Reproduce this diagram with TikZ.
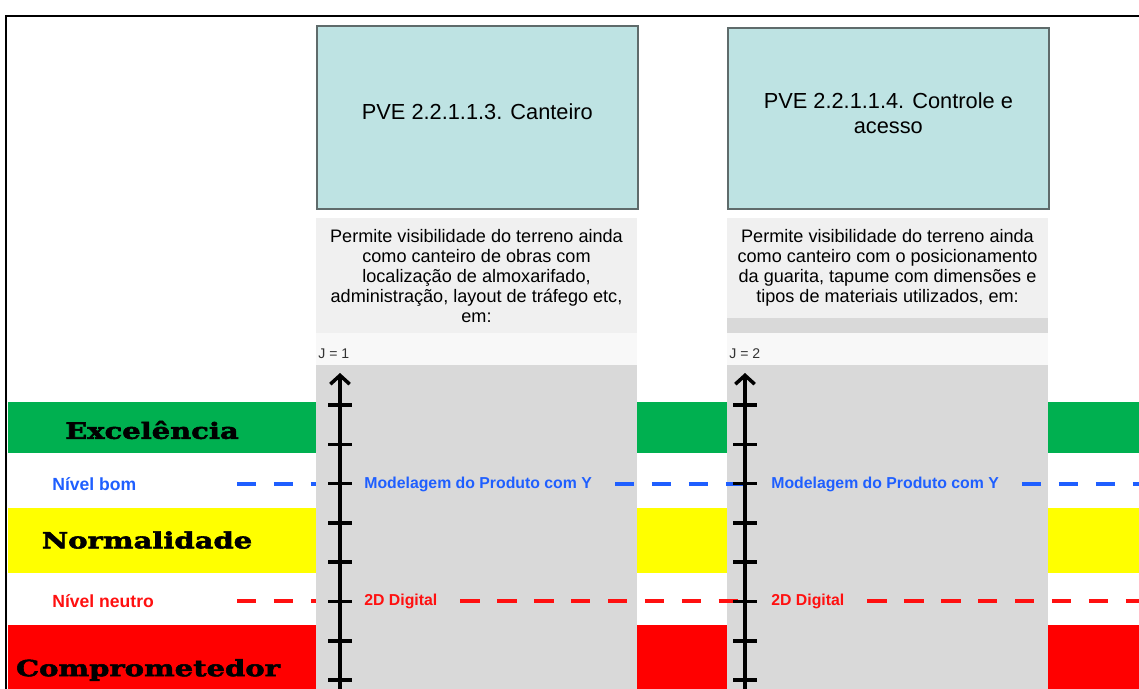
\documentclass[tikz,border=0pt]{standalone}
\usepackage{fontspec}
\setmainfont{Liberation Sans}
\newfontfamily\bandfont[FakeStretch=1.3,FakeBold=2.5]{DejaVu Serif}
\usepackage{tikz}
\usetikzlibrary{arrows.meta,positioning}
\definecolor{teal}{HTML}{BEE3E3}
\definecolor{tealline}{HTML}{5F6B6B}
\definecolor{descgray}{HTML}{F0F0F0}
\definecolor{jgray}{HTML}{F8F8F8}
\definecolor{colgray}{HTML}{D9D9D9}
\definecolor{exgreen}{HTML}{00B050}
\definecolor{nmyellow}{HTML}{FFFF00}
\definecolor{cpred}{HTML}{FF0000}
\definecolor{bomblue}{HTML}{1F5FFF}
\definecolor{neured}{HTML}{FF1010}
\newcommand{\scaleaxis}[2]{%
    % #1=x of the axis, #2=name
    \coordinate (#2b) at (#1,689);
    \coordinate (#2t) at (#1,373);
    \draw[line width=2.4pt, -{Straight Barb[length=5pt,width=11pt,line width=2pt]}] (#2b) -- (#2t);
    \foreach \k in {0,...,7}
        \draw[line width=2pt] (#1-12,405+39.3*\k) -- (#1+12,405+39.3*\k);
}

\begin{document}
\begin{tikzpicture}[x=0.02cm, y=-0.02cm,
    pvebox/.style={rectangle, draw=tealline, line width=1pt, fill=teal, anchor=north west, minimum width=6.42cm, minimum height=3.66cm, align=center, font=\fontsize{12.4}{14.2}\selectfont},
    descbox/.style={rectangle, fill=descgray, anchor=north west, minimum width=6.42cm, inner sep=0pt},
    colbox/.style={rectangle, fill=colgray, anchor=north west, minimum width=6.42cm, inner sep=0pt},
    desctext/.style={anchor=north, align=center, font=\fontsize{10.3}{11.4}\selectfont, inner sep=0pt},
    bandlabel/.style={font=\bandfont\bfseries\fontsize{12.7}{14}\selectfont},
    levellabel/.style={anchor=west, font=\bfseries\fontsize{9}{11}\selectfont, inner sep=0pt},
    bomline/.style={draw=bomblue, line width=2.3pt, dash pattern=on 11pt off 10pt},
    neuline/.style={draw=neured, line width=2.3pt, dash pattern=on 11pt off 10pt}
]
    \useasboundingbox (0,0) rectangle (1139,689);
    \fill[white] (0,0) rectangle (1139,689);

    % frame
    \draw[line width=1.3pt] (6,689) -- (6,16) -- (1139,16);

    % bands
    \fill[exgreen] (8,402) rectangle (1139,453);
    \fill[nmyellow] (8,508) rectangle (1139,573);
    \fill[cpred] (8,625) rectangle (1139,689);
    \node[bandlabel] (exc) at (152,430) {Excelência};
    \node[bandlabel] (nor) at (147,540) {Normalidade};
    \node[bandlabel] (com) at (148,670) {Comprometedor};

    % columns
    \node[pvebox, text depth=6pt] (pve3) at (316,25) {PVE 2.2.1.1.3. Canteiro};
    \node[pvebox, minimum height=3.62cm, text depth=6pt] (pve4) at (727,27) {PVE 2.2.1.1.4. Controle e\\acesso};

    \node[descbox, minimum height=2.3cm] (desc3) at (316,218) {};
    \node[descbox, minimum height=2.0cm] (desc4) at (727,218) {};
    \node[colbox, minimum height=0.3cm] (sep4) at (727,318) {};
    \node[descbox, fill=jgray, minimum height=0.64cm] (j1) at (316,333) {};
    \node[descbox, fill=jgray, minimum height=0.64cm] (j2) at (727,333) {};
    \node[colbox, minimum height=6.48cm] (col1) at (316,365) {};
    \node[colbox, minimum height=6.48cm] (col2) at (727,365) {};

    \node[desctext] (txt3) at (476.5,229) {Permite visibilidade do terreno ainda\\como canteiro de obras com\\localização de almoxarifado,\\administração, layout de tráfego etc,\\em:};
    \node[desctext] (txt4) at (887.5,229) {Permite visibilidade do terreno ainda\\como canteiro com o posicionamento\\da guarita, tapume com dimensões e\\tipos de materiais utilizados, em:};
    \node[anchor=west, font=\fontsize{8}{9}\selectfont, inner sep=0pt, text=black!80] (jl1) at (318,354) {J = 1};
    \node[anchor=west, font=\fontsize{8}{9}\selectfont, inner sep=0pt, text=black!80] (jl2) at (729,354) {J = 2};

    % levels
    \node[levellabel, font=\bfseries\fontsize{10}{11}\selectfont, text=bomblue] (bom) at (52,484) {Nível bom};
    \node[levellabel, font=\bfseries\fontsize{10}{11}\selectfont, text=neured] (neu) at (52,601) {Nível neutro};
    \node[levellabel, text=bomblue] (mod1) at (364,484) {Modelagem do Produto com Y};
    \node[levellabel, text=bomblue] (mod2) at (771,484) {Modelagem do Produto com Y};
    \node[levellabel, text=neured] (dig1) at (364,601) {2D Digital};
    \node[levellabel, text=neured] (dig2) at (771,601) {2D Digital};
    \coordinate (bomend) at (1139,484);
    \coordinate (neuend) at (1139,601);

    \draw[bomline] (237,484) -- (316,484);
    \draw[bomline] ([xshift=13pt]mod1.east) -- (745,484);
    \draw[bomline] ([xshift=13pt]mod2.east) -- (bomend);
    \draw[neuline] (237,601) -- (316,601);
    \draw[neuline] ([xshift=13pt]dig1.east) -- (745,601);
    \draw[neuline] ([xshift=13pt]dig2.east) -- (neuend);

    \scaleaxis{340}{ax1}
    \scaleaxis{745}{ax2}
\end{tikzpicture}
\end{document}
